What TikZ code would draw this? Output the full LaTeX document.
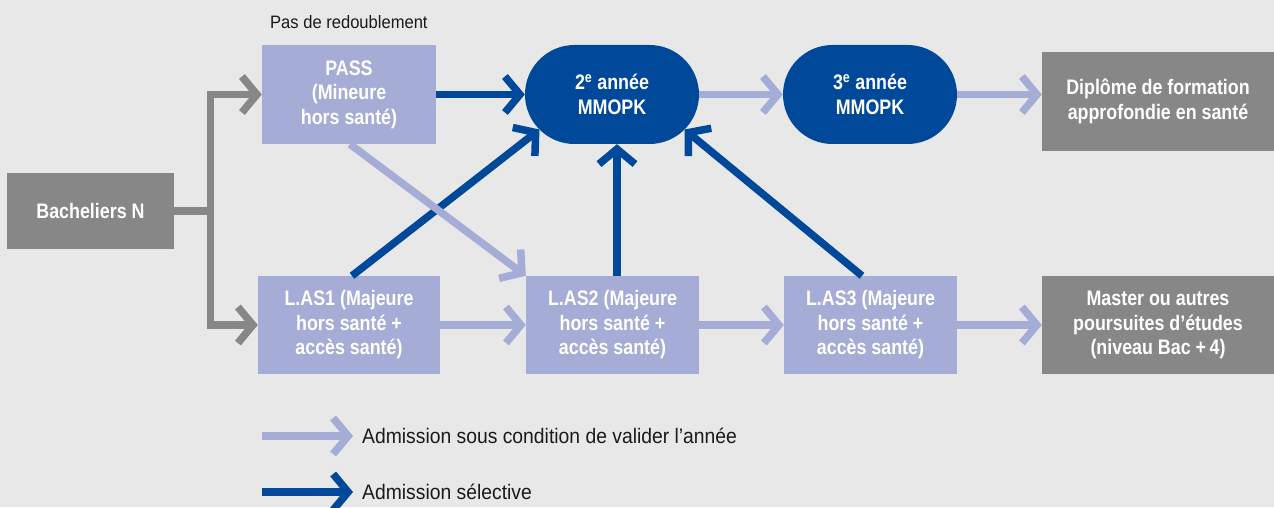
\documentclass[tikz,border=0pt]{standalone}
\usepackage{fontspec}
\setmainfont{Liberation Sans}[FakeStretch=0.85]
\newfontfamily\lgfont{Liberation Sans}[FakeStretch=0.92]
\usetikzlibrary{arrows.meta}
\definecolor{bgc}{HTML}{E8E8E8}
\definecolor{grayb}{HTML}{878787}
\definecolor{lav}{HTML}{A5ACD5}
\definecolor{dblue}{HTML}{00499A}
\definecolor{txt}{HTML}{1A1A1A}
\begin{document}
\begin{tikzpicture}[x=1pt,y=1pt,
  box/.style={draw=none, inner sep=0pt, align=center, text=white,
    font=\bfseries\fontsize{21}{24.5}\selectfont, minimum height=99pt},
  lbox/.style={box, fill=lav},
  gbox/.style={box, fill=grayb},
  pill/.style={box, fill=dblue, rounded corners=49.5pt},
  arrbase/.style={line width=7.5pt, line join=miter,
    -{Straight Barb[sharp, length=15pt, width=36pt]}},
  larr/.style={arrbase, draw=lav},
  darr/.style={arrbase, draw=dblue},
  garr/.style={arrbase, draw=grayb},
  gline/.style={line width=7.5pt, draw=grayb},
  lgtext/.style={anchor=west, text=txt, inner sep=0pt,
    font=\lgfont\fontsize{21}{23}\selectfont},
  toptext/.style={anchor=west, text=txt, inner sep=0pt,
    font=\lgfont\fontsize{18}{20}\selectfont},
]
\fill[bgc] (0,0) rectangle (1274,507);
\useasboundingbox (0,0) rectangle (1274,507);

% nodes
\node[gbox, minimum width=167pt, minimum height=76pt] (bach) at (90.5,296) {Bacheliers N};
\node[lbox, minimum width=174pt] (pass) at (349,412.5) {PASS\\(Mineure\\hors santé)};
\node[pill, minimum width=174pt] (y2) at (612,412.5) {2\textsuperscript{e} année\\MMOPK};
\node[pill, minimum width=174pt] (y3) at (870,412.5) {3\textsuperscript{e} année\\MMOPK};
\node[gbox, minimum width=232pt] (dfas) at (1158,405.5) {Diplôme de formation\\approfondie en santé};
\node[lbox, minimum width=182pt, minimum height=98pt] (las1) at (349,182) {L.AS1 (Majeure\\hors santé +\\accès santé)};
\node[lbox, minimum width=173pt, minimum height=98pt] (las2) at (612.5,182) {L.AS2 (Majeure\\hors santé +\\accès santé)};
\node[lbox, minimum width=173pt, minimum height=98pt] (las3) at (870.5,182) {L.AS3 (Majeure\\hors santé +\\accès santé)};
\node[gbox, minimum width=232pt, minimum height=98pt] (master) at (1158,182) {Master ou autres\\poursuites d’études\\(niveau Bac +\,4)};
\node[toptext] (pdr) at (270,485) {Pas de redoublement};

% gray connectors
\coordinate (jn) at (210.5,296);
\draw[gline] (bach.east) -- (jn);
\draw[garr] (jn) |- (pass.west);
\draw[garr] (jn) |- (las1.west);

% dark (selective) connectors
\draw[darr] (pass.east) -- (y2.west);
\draw[darr] ([xshift=3pt]las1.north) -- ([xshift=-72.5pt,yshift=-35pt]y2.center);
\draw[darr] ([xshift=4.5pt]las2.north) -- ([xshift=4.5pt]las2.north |- y2.south);
\draw[darr] ([xshift=-8.5pt]las3.north) -- ([xshift=72.5pt,yshift=-35pt]y2.center);

% light (conditional) connectors
\draw[larr] (y2.east) -- (y3.west);
\draw[larr] (y3.east) -- (y3.east -| dfas.west);
\draw[larr] ([xshift=1pt]pass.south) -- (las2.north west);
\draw[larr] (las1.east) -- (las2.west);
\draw[larr] (las2.east) -- (las3.west);
\draw[larr] (las3.east) -- (master.west);

% legend
\coordinate (l1s) at (262,71);
\coordinate (l1e) at (353,71);
\coordinate (l2s) at (262,15);
\coordinate (l2e) at (353,15);
\draw[larr] (l1s) -- (l1e);
\draw[darr] (l2s) -- (l2e);
\node[lgtext] (t1) at (362,71) {Admission sous condition de valider l’année};
\node[lgtext] (t2) at (362,15) {Admission sélective};
\end{tikzpicture}
\end{document}
